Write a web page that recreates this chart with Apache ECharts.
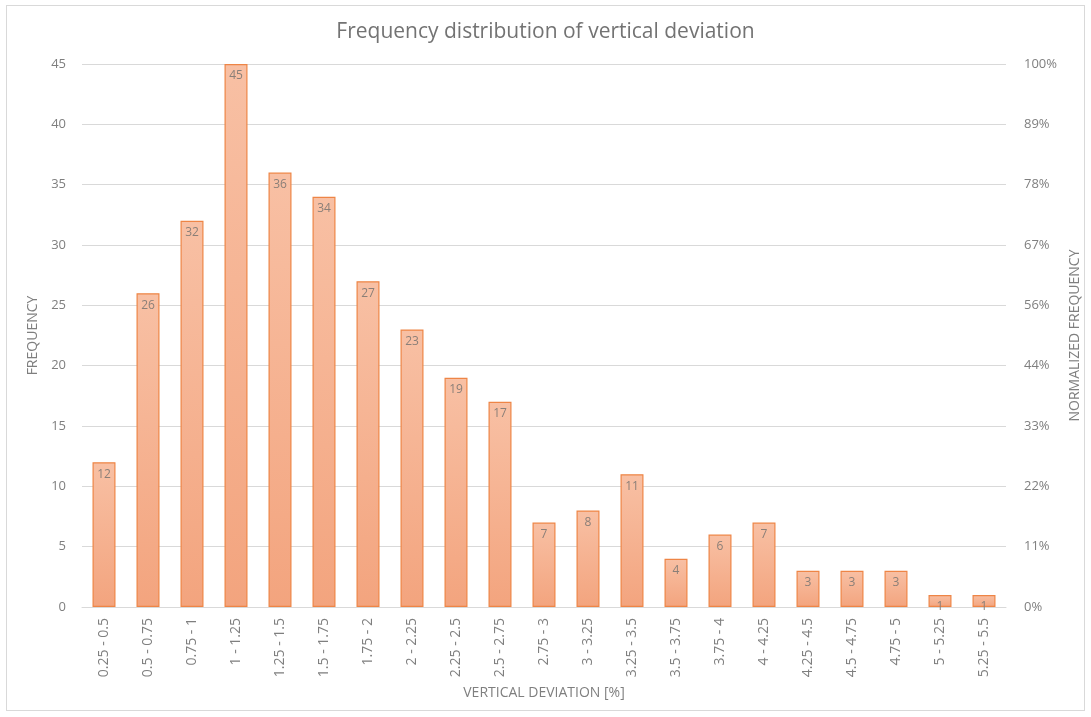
<!DOCTYPE html>
<html>
<head>
<meta charset="utf-8">
<script src="https://cdn.jsdelivr.net/npm/echarts@6/dist/echarts.min.js"></script>
<style>
  html, body { margin: 0; padding: 0; background: #ffffff; }
  #frame { position: absolute; left: 6px; top: 5px; width: 1079px; height: 706px; border: 1px solid #d9d9d9; box-sizing: border-box; }
  #chart { position: absolute; left: 0; top: 0; width: 1091px; height: 717px; }
</style>
</head>
<body>
<div id="frame"></div>
<div id="chart"></div>
<script>
// Deviation bins (percent) and the count of samples in each
const categories = [
  '0.25 - 0.5', '0.5 - 0.75', '0.75 - 1', '1 - 1.25', '1.25 - 1.5', '1.5 - 1.75',
  '1.75 - 2', '2 - 2.25', '2.25 - 2.5', '2.5 - 2.75', '2.75 - 3', '3 - 3.25',
  '3.25 - 3.5', '3.5 - 3.75', '3.75 - 4', '4 - 4.25', '4.25 - 4.5', '4.5 - 4.75',
  '4.75 - 5', '5 - 5.25', '5.25 - 5.5'
];
const frequency = [12, 26, 32, 45, 36, 34, 27, 23, 19, 17, 7, 8, 11, 4, 6, 7, 3, 3, 3, 1, 1];

// Secondary axis labels (share of the largest bin)
const normalizedTicks = ['0%', '11%', '22%', '33%', '44%', '56%', '67%', '78%', '89%', '100%'];

const textGray = '#7f7f7f';
const font = "'Open Sans', 'Noto Sans', sans-serif";

const chart = echarts.init(document.getElementById('chart'), null, { renderer: 'canvas' });

chart.setOption({
  animation: false,
  textStyle: { fontFamily: font },
  title: {
    text: 'Frequency distribution of vertical deviation',
    left: 'center',
    top: 17,
    textStyle: { fontFamily: font, fontSize: 21, fontWeight: 'normal', color: '#737373' }
  },
  grid: { left: 82, right: 85, top: 64, bottom: 110 },
  xAxis: {
    type: 'category',
    data: categories,
    name: 'VERTICAL DEVIATION [%]',
    nameLocation: 'middle',
    nameGap: 79,
    nameTextStyle: { color: textGray, fontSize: 14, fontFamily: font },
    axisLine: { lineStyle: { color: '#d9d9d9' } },
    axisTick: { show: false },
    axisLabel: { rotate: 90, color: textGray, fontSize: 14, margin: 11, interval: 0 }
  },
  yAxis: [
    {
      type: 'value',
      min: 0,
      max: 45,
      interval: 5,
      name: 'FREQUENCY',
      nameLocation: 'middle',
      nameGap: 38,
      nameRotate: 90,
      nameTextStyle: { color: textGray, fontSize: 14, fontFamily: font },
      axisLine: { show: false },
      axisTick: { show: false },
      axisLabel: { color: textGray, fontSize: 13, margin: 16 },
      splitLine: { lineStyle: { color: '#d9d9d9' } }
    },
    {
      type: 'value',
      min: 0,
      max: 9,
      interval: 1,
      name: 'NORMALIZED FREQUENCY',
      nameLocation: 'middle',
      nameGap: 58,
      nameRotate: 90,
      nameTextStyle: { color: textGray, fontSize: 14, fontFamily: font },
      axisLine: { show: false },
      axisTick: { show: false },
      axisLabel: {
        color: textGray,
        fontSize: 13,
        margin: 18,
        formatter: (v) => normalizedTicks[Math.round(v)]
      },
      splitLine: { show: false }
    }
  ],
  series: [
    {
      type: 'bar',
      data: frequency,
      barWidth: 23,
      itemStyle: {
        color: new echarts.graphic.LinearGradient(0, 0, 0, 1, [
          { offset: 0, color: '#f8c0a4' },
          { offset: 1, color: '#f3a47e' }
        ]),
        borderColor: '#ee8546',
        borderWidth: 1.2
      },
      label: {
        show: true,
        position: 'insideTop',
        distance: 6,
        color: '#8a7f78',
        fontSize: 12
      }
    }
  ]
});
</script>
</body>
</html>
